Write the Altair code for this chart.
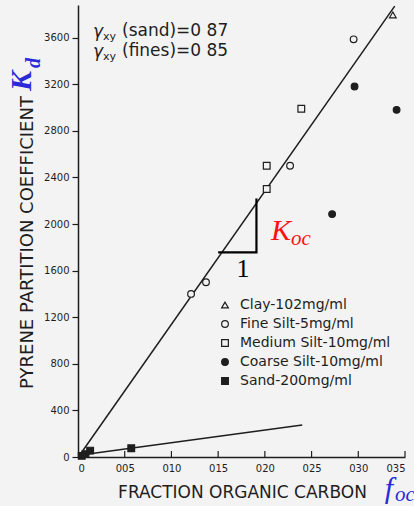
import altair as alt
import pandas as pd

# ---- data ----
clay_x = [0.0337]
clay_y = [3795]
fine_x = [0.0121, 0.0137, 0.0227, 0.0295]
fine_y = [1400, 1500, 2500, 3585]
med_x = [0.0202, 0.0202, 0.0239]
med_y = [2300, 2500, 2990]
coarse_x = [0.0272, 0.0296, 0.0341]
coarse_y = [2085, 3180, 2980]
sand_x = [0.0004, 0.0008, 0.0013, 0.0057]
sand_y = [10, 25, 55, 75]

series_names = ["Clay-102mg/ml", "Fine  Silt-5mg/ml", "Medium  Silt-10mg/ml",
                "Coarse  Silt-10mg/ml", "Sand-200mg/ml"]

fines_line_x = [0.0003, 0.0339]
fines_line_y = [30, 3870]
sand_line_x = [0.0003, 0.0240]
sand_line_y = [18, 275]

slope_x = [0.0150, 0.0191, 0.0191]
slope_y = [1756, 1756, 2219]

x_ticks = [0, 0.005, 0.010, 0.015, 0.020, 0.025, 0.030, 0.035]
x_tick_labels = ["0", "005", "010", "015", "020", "025", "030", "035"]
y_ticks = [0, 400, 800, 1200, 1600, 2000, 2400, 2800, 3200, 3600]

BG = "#f3f3f3"
INK = "#1e1e1e"
W, H = 327, 452

rows = []
for name, xs, ys in zip(series_names,
                        [clay_x, fine_x, med_x, coarse_x, sand_x],
                        [clay_y, fine_y, med_y, coarse_y, sand_y]):
    for a, b in zip(xs, ys):
        rows.append({"foc": a, "kd": b, "series": name})
pts = pd.DataFrame(rows)

xscale = alt.Scale(domain=[0, 0.035], nice=False, zero=True)
yscale = alt.Scale(domain=[0, 3880], nice=False, zero=True)

label_map = "{" + ",".join(f"'{v}':'{l}'" for v, l in zip(x_ticks, x_tick_labels)) + "}"

xaxis = alt.Axis(values=x_ticks, labelExpr=f"{label_map}[datum.value] || datum.label",
                 ticks=False, grid=False, domainColor=INK, domainWidth=1.5,
                 labelFont="DejaVu Sans", labelFontSize=10, labelColor=INK,
                 labelPadding=6, title="FRACTION ORGANIC CARBON",
                 titleFont="DejaVu Sans", titleFontSize=17, titleFontWeight="normal",
                 titleColor=INK, titleX=164, titleY=35, titleBaseline="middle",
                 titleAlign="center")
yaxis = alt.Axis(values=y_ticks, format="d", grid=False, domainColor=INK, domainWidth=1.5,
                 tickColor=INK, tickSize=6, tickWidth=1.2,
                 labelFont="DejaVu Sans", labelFontSize=10, labelColor=INK,
                 labelPadding=3, title="PYRENE PARTITION COEFFICIENT",
                 titleFont="DejaVu Sans", titleFontSize=18, titleFontWeight="normal",
                 titleColor=INK, titleX=-51, titleY=237, titleBaseline="middle",
                 titleAlign="center", titleAngle=-90)

leg = alt.Legend(orient="none", legendX=140, legendY=293, title=None,
                 labelFont="DejaVu Sans", labelFontSize=14,
                 labelColor=INK, rowPadding=5, symbolSize=45,
                 symbolStrokeWidth=1.2, labelOffset=8)

points = alt.Chart(pts).mark_point(size=45, strokeWidth=1.2, opacity=1).encode(
    x=alt.X("foc:Q", scale=xscale, axis=xaxis),
    y=alt.Y("kd:Q", scale=yscale, axis=yaxis),
    shape=alt.Shape("series:N", sort=series_names,
                    scale=alt.Scale(domain=series_names,
                                    range=["triangle-up", "circle", "square", "circle", "square"]),
                    legend=leg),
    fill=alt.Fill("series:N", sort=series_names,
                  scale=alt.Scale(domain=series_names,
                                  range=[BG, BG, BG, INK, INK]),
                  legend=leg),
    stroke=alt.Stroke("series:N", sort=series_names,
                      scale=alt.Scale(domain=series_names, range=[INK] * 5),
                      legend=leg),
)

fl = pd.DataFrame({"foc": fines_line_x, "kd": fines_line_y})
sl = pd.DataFrame({"foc": sand_line_x, "kd": sand_line_y})
line1 = alt.Chart(fl).mark_line(color=INK, strokeWidth=1.5).encode(
    x=alt.X("foc:Q", scale=xscale), y=alt.Y("kd:Q", scale=yscale))
line2 = alt.Chart(sl).mark_line(color=INK, strokeWidth=1.5).encode(
    x=alt.X("foc:Q", scale=xscale), y=alt.Y("kd:Q", scale=yscale))

tri = pd.DataFrame({"foc": slope_x, "kd": slope_y, "o": [0, 1, 2]})
slope = alt.Chart(tri).mark_line(color="#000000", strokeWidth=2.2).encode(
    x=alt.X("foc:Q", scale=xscale), y=alt.Y("kd:Q", scale=yscale), order="o:Q")

tk = pd.DataFrame({"foc": x_ticks[1:]})
xticks = alt.Chart(tk).mark_rule(color=INK, strokeWidth=1.2).encode(
    x=alt.X("foc:Q", scale=xscale), y=alt.value(H - 6), y2=alt.value(H))

def txt(s, x, y, size, color=INK, font="DejaVu Sans", style="normal", weight="normal",
        align="left", baseline="middle", angle=0):
    return alt.Chart(pd.DataFrame({"t": [s]})).mark_text(
        font=font, fontSize=size, fontStyle=style, fontWeight=weight, color=color,
        align=align, baseline=baseline, angle=angle).encode(
        text="t:N", x=alt.value(x), y=alt.value(y))

BLUE = "#2a2ad8"
RED = "#ff1010"
annos = [
    txt("γ", 15, 27, 17, style="italic"),
    txt("xy", 25, 32, 11),
    txt("(sand)=0 87", 44, 26, 17),
    txt("γ", 15, 47, 17, style="italic"),
    txt("xy", 25, 52, 11),
    txt("(fines)=0 85", 44, 46, 17),
    txt("K", -56, 76, 30, color=BLUE, font="Liberation Serif", style="italic",
        weight="bold", align="center", angle=270),
    txt("d", -44, 58, 20, color=BLUE, font="Liberation Serif", style="italic",
        weight="bold", align="center", angle=270),
    txt("f", 311, 484, 30, color=BLUE, font="Liberation Serif", style="italic",
        align="center"),
    txt("oc", 327, 490, 21, color=BLUE, font="Liberation Serif", style="italic",
        align="center"),
    txt("K", 203, 226, 30, color=RED, font="Liberation Serif", style="italic",
        align="center"),
    txt("oc", 223, 234, 21, color=RED, font="Liberation Serif", style="italic",
        align="center"),
    txt("1", 165, 264, 26, color="#000000", font="Liberation Serif", align="center"),
]

chart = alt.layer(line1, line2, slope, xticks, points, *annos).properties(
    width=W, height=H,
    autosize=alt.AutoSizeParams(type="none"),
    padding={"left": 78, "top": 5, "right": 9, "bottom": 49},
    background=BG,
).configure_view(stroke=None)

chart.save("out.html", embed_options={"renderer": "svg", "actions": False})
